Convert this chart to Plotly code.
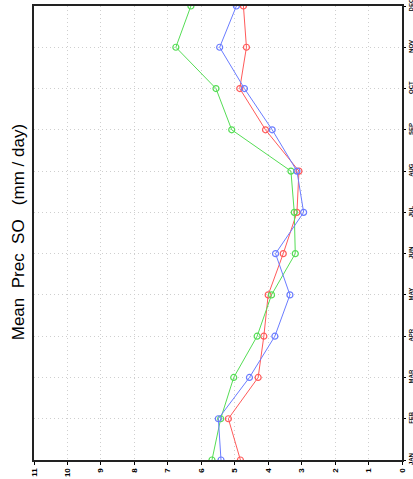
import plotly.graph_objects as go

months = ["JAN", "FEB", "MAR", "APR", "MAY", "JUN", "JUL", "AUG", "SEP", "OCT", "NOV", "DEC"]
month_pos = list(range(1, 13))

# Mean precipitation, Southern Ocean (mm/day)
prec_red = [4.83, 5.19, 4.30, 4.13, 4.00, 3.55, 3.14, 3.08, 4.08, 4.85, 4.65, 4.74]
prec_green = [5.68, 5.42, 5.03, 4.33, 3.90, 3.19, 3.22, 3.32, 5.09, 5.56, 6.76, 6.31]
prec_blue = [5.41, 5.49, 4.56, 3.80, 3.35, 3.78, 2.94, 3.14, 3.88, 4.71, 5.45, 4.95]

value_ticks = list(range(0, 12))

series = [
    (prec_red, "#ff5a5a"),
    (prec_green, "#55dd55"),
    (prec_blue, "#6a7cff"),
]

fig = go.Figure()
for vals, col in series:
    fig.add_trace(go.Scatter(
        x=vals, y=month_pos, mode="lines+markers",
        line=dict(color=col, width=1),
        marker=dict(symbol="circle-open", size=6, color=col, line=dict(width=1.2, color=col)),
        showlegend=False,
    ))

grid = dict(showgrid=True, gridcolor="#cfcfcf", griddash="1px,3px", gridwidth=1)
frame = dict(showline=True, linecolor="#222222", linewidth=2, mirror=True, zeroline=False)

fig.update_layout(
    template="none",
    width=413, height=479,
    margin=dict(l=34, r=11, t=6, b=19),
    plot_bgcolor="white", paper_bgcolor="white",
    xaxis=dict(
        range=[11, 0], tickvals=value_ticks, ticktext=[str(v) for v in value_ticks],
        tickangle=-90,
        tickfont=dict(family="Liberation Sans, Arial, sans-serif", size=8, color="black", weight="bold"),
        ticks="outside", ticklen=3, tickcolor="black", automargin=False,
        **grid, **frame,
    ),
    yaxis=dict(
        range=[1, 12], tickvals=month_pos, ticktext=months, side="right",
        tickangle=-90, ticklabeloverflow="allow",
        tickfont=dict(family="Liberation Sans, Arial, sans-serif", size=6, color="black", weight="bold"),
        ticks="outside", ticklen=2, tickcolor="black", automargin=False,
        **grid, **frame,
    ),
)

fig.add_annotation(
    text="Mean  Prec  SO   (mm / day)", textangle=-90,
    xref="paper", yref="paper", x=-0.043, y=0.502,
    xanchor="center", yanchor="middle", showarrow=False,
    font=dict(family="Liberation Sans, Arial, sans-serif", size=17, color="black"),
)

fig.write_html("out.html")
